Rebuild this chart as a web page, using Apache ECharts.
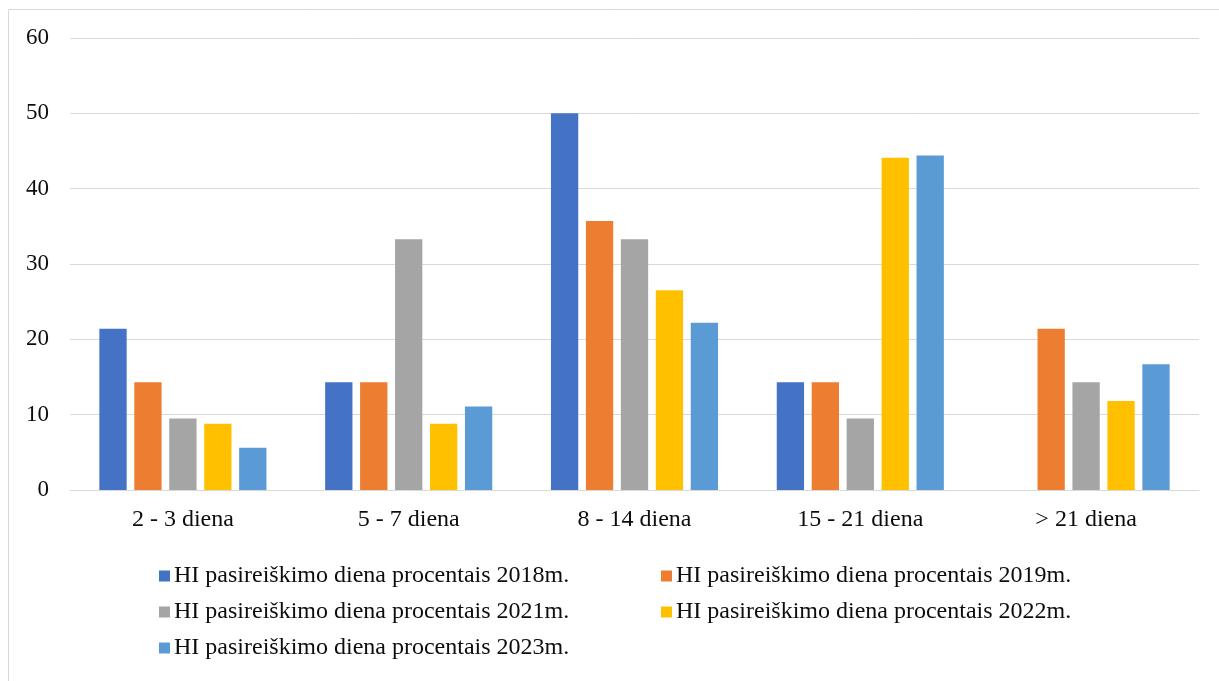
<!DOCTYPE html>
<html>
<head>
<meta charset="utf-8">
<script src="https://cdn.jsdelivr.net/npm/echarts@6/dist/echarts.min.js"></script>
<style>
html,body{margin:0;padding:0;background:#fff;}
#main{width:1219px;height:681px;}
</style>
</head>
<body>
<div id="main"></div>
<script>
// kategorijos ir reiksmes
var categories=['2 - 3 diena','5 - 7 diena','8 - 14 diena','15 - 21 diena','> 21 diena'];
var seriesNames=[
	'HI pasireiškimo diena procentais 2018m.',
	'HI pasireiškimo diena procentais 2019m.',
	'HI pasireiškimo diena procentais 2021m.',
	'HI pasireiškimo diena procentais 2022m.',
	'HI pasireiškimo diena procentais 2023m.'
];
var v2018=[21.4,14.3,50,14.3,0];
var v2019=[14.3,14.3,35.7,14.3,21.4];
var v2021=[9.5,33.3,33.3,9.5,14.3];
var v2022=[8.8,8.8,26.5,44.1,11.8];
var v2023=[5.6,11.1,22.2,44.4,16.7];
var yTicks=[0,10,20,30,40,50,60];

var colors=['#4472C4','#ED7D31','#A5A5A5','#FFC000','#5B9BD5'];
var allValues=[v2018,v2019,v2021,v2022,v2023];
var font="'Liberation Serif','Times New Roman',serif";

var series=[];
for(var i=0;i<seriesNames.length;i++){
	series.push({
		name:seriesNames[i],
		type:'bar',
		barGap:'28%',
		barCategoryGap:'26%',
		itemStyle:{color:colors[i]},
		data:allValues[i]
	});
}

var chart=echarts.init(document.getElementById('main'));
chart.setOption({
	backgroundColor:'#ffffff',
	animation:false,
	color:colors,
	graphic:[{
		type:'rect',
		shape:{x:8.5,y:9.5,width:1400,height:800},
		style:{fill:'none',stroke:'#d9d9d9',lineWidth:1},
		silent:true
	}],
	grid:{left:70,right:20,top:38,bottom:191},
	legend:{
		left:154,
		top:553,
		width:1020,
		itemWidth:11,
		itemHeight:11,
		itemGap:0,
		icon:'rect',
		data:seriesNames,
		textStyle:{
			fontFamily:font,
			fontSize:24,
			color:'#0d0d0d',
			width:487,
			lineHeight:36,
			padding:[0,0,0,-1]
		}
	},
	xAxis:{
		type:'category',
		data:categories,
		axisLine:{lineStyle:{color:'#d9d9d9',width:1}},
		axisTick:{show:false},
		axisLabel:{fontFamily:font,fontSize:24,color:'#0d0d0d',margin:18}
	},
	yAxis:{
		type:'value',
		min:yTicks[0],
		max:yTicks[yTicks.length-1],
		interval:10,
		axisLine:{show:false},
		axisTick:{show:false},
		splitLine:{lineStyle:{color:'#d9d9d9',width:1}},
		axisLabel:{fontFamily:font,fontSize:23,color:'#0d0d0d',margin:21}
	},
	series:series
});
</script>
</body>
</html>
